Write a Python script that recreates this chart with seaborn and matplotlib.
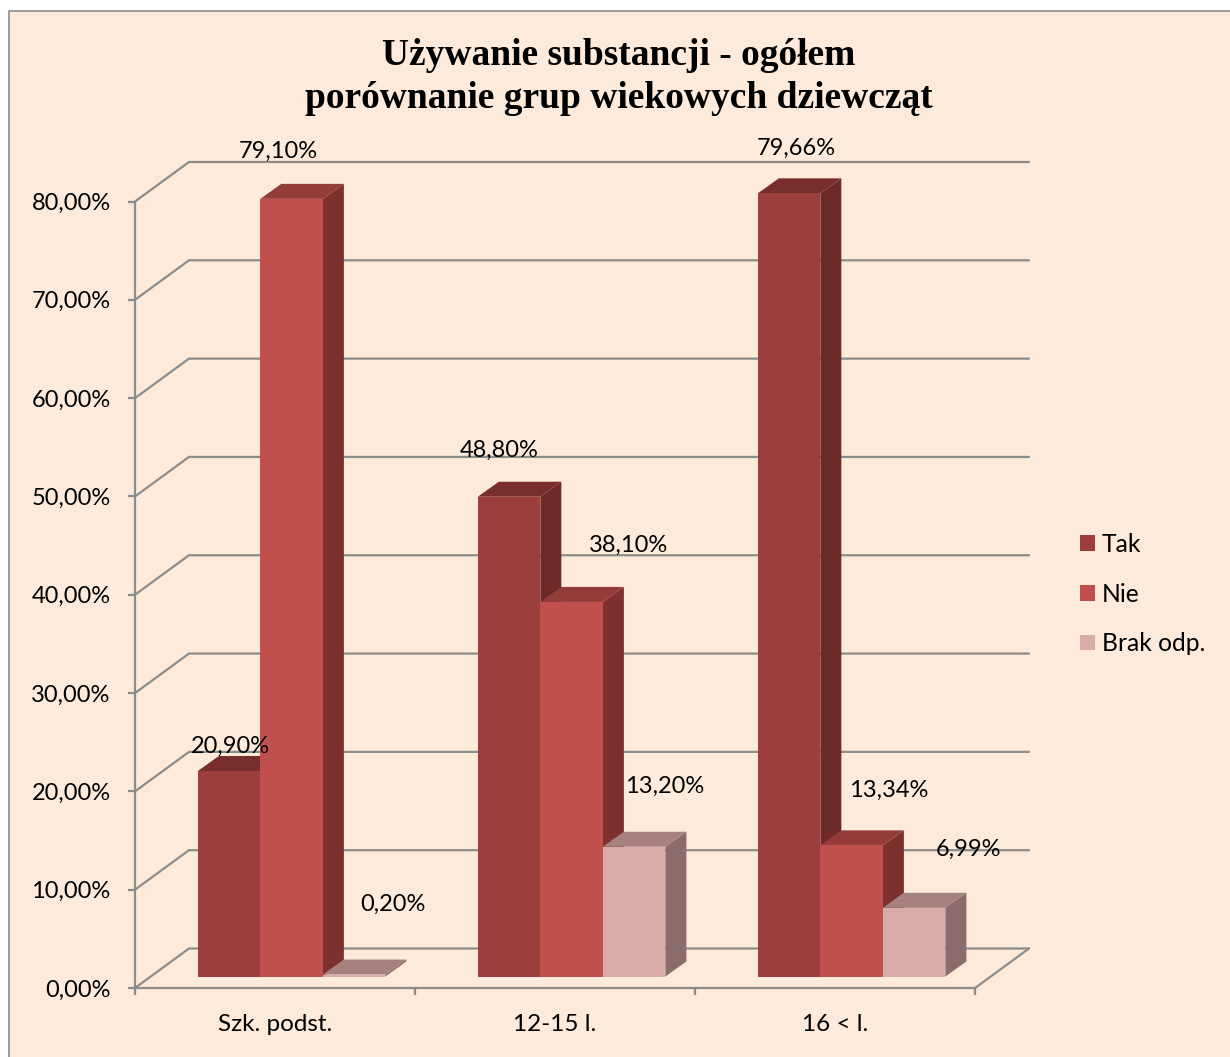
import matplotlib
matplotlib.use("Agg")
import matplotlib.pyplot as plt
from matplotlib.patches import Rectangle, Polygon
from matplotlib.lines import Line2D
import pandas as pd
import seaborn as sns

# ---- data ----
categories = ["Szk. podst.", "12-15 l.", "16 < l."]
series_names = ["Tak", "Nie", "Brak odp."]
tak = [20.90, 48.80, 79.66]
nie = [79.10, 38.10, 13.34]
brak = [0.20, 13.20, 6.99]
y_ticks = [0, 10, 20, 30, 40, 50, 60, 70, 80]
title = "Używanie substancji - ogółem\nporównanie grup wiekowych dziewcząt"

# ---- styles ----
front = ["#9C3E3D", "#C0504D", "#D9ACAA"]
side = ["#6E2A29", "#7E302F", "#8A6C6C"]
top = ["#772E2D", "#933C3A", "#A6817F"]
BG = "#FDEADA"
GRID = "#8C8C8C"
W, H = 1230, 1057
FONT = "Lato"
FS = 17

sns.set_theme(style="white")
plt.rcParams["font.family"] = [FONT, "DejaVu Sans"]

fig = plt.figure(figsize=(W / 100, H / 100), dpi=100, facecolor="white")


def px_axes(x0, y_top, x1, y_bot, **kw):
    return fig.add_axes([x0 / W, 1 - y_bot / H, (x1 - x0) / W, (y_bot - y_top) / H], **kw)


# panel background with the frame on left and top
fig.add_artist(Rectangle((9 / W, 0), 1 - 9 / W, 1 - 11 / H, transform=fig.transFigure,
                         facecolor=BG, edgecolor="none", zorder=-2))
fig.add_artist(Line2D([9 / W, 9 / W, 1], [0, 1 - 11 / H, 1 - 11 / H], transform=fig.transFigure,
                      color=GRID, lw=1.2, zorder=-1))

# ---- front axis frame and back wall ----
AX_L, AX_R, AX_T, AX_B = 135, 975, 201.5, 988
base = px_axes(AX_L, AX_T, AX_R, AX_B, facecolor="none")
base.set_xlim(-0.5, 2.5)
base.set_ylim(0, 80)
ux = (AX_R - AX_L) / 3
uy = (AX_B - AX_T) / 80
dx_wall, dy_wall = 54 / ux, 39.5 / uy
for v in y_ticks:
    base.plot([-0.5, -0.5 + dx_wall, 2.5 + dx_wall], [v, v + dy_wall, v + dy_wall],
              color=GRID, lw=1.6, clip_on=False, zorder=1, solid_joinstyle="miter")
base.plot([2.5, 2.5 + dx_wall], [0, dy_wall], color=GRID, lw=1.6, clip_on=False, zorder=1)

for s in ("top", "right"):
    base.spines[s].set_visible(False)
for s in ("left", "bottom"):
    base.spines[s].set_color(GRID)
    base.spines[s].set_linewidth(1.6)
base.set_yticks(y_ticks)
base.set_yticklabels([f"{v:.2f}%".replace(".", ",") for v in y_ticks], fontsize=FS, color="black")
base.set_xticks([-0.5, 0.5, 1.5, 2.5])
base.set_xticklabels([])
base.set_xticks([0, 1, 2], minor=True)
base.set_xticklabels(categories, minor=True, fontsize=FS + 0.5, color="black")
base.tick_params(axis="y", which="major", length=5, width=1.6, color=GRID, pad=12.5, left=True)
base.tick_params(axis="x", which="major", length=5, width=1.6, color=GRID, bottom=True)
base.tick_params(axis="x", which="minor", length=0, pad=19)

# ---- bars (front faces via seaborn) ----
df = pd.DataFrame({
    "kategoria": categories * 3,
    "seria": [n for n in series_names for _ in categories],
    "wartosc": tak + nie + brak,
})
bars = px_axes(AX_L + 16.6, AX_T - 11.5, AX_R + 16.6, AX_B - 11.5, facecolor="none")
sns.barplot(data=df, x="kategoria", y="wartosc", hue="seria", hue_order=series_names,
            order=categories, palette=front, saturation=1, width=0.67, gap=0,
            errorbar=None, ax=bars, legend=True, linewidth=0, edgecolor="none")
bars.set_xlim(-0.5, 2.5)
bars.set_ylim(0, 80)
bars.axis("off")

# ---- depth faces built from the drawn bars ----
dx, dy = 21 / ux, 15 / uy
for i, cont in enumerate(bars.containers):
    for p in cont.patches:
        x0, x1, h = p.get_x(), p.get_x() + p.get_width(), p.get_height()
        p.set_zorder(2 + 2 * i + 0.5)
        p.set_clip_on(False)
        bars.add_patch(Polygon([(x1, 0), (x1 + dx, dy), (x1 + dx, h + dy), (x1, h)],
                               facecolor=side[i], edgecolor="none", zorder=2 + 2 * i, clip_on=False))
        bars.add_patch(Polygon([(x0, h), (x0 + dx, h + dy), (x1 + dx, h + dy), (x1, h)],
                               facecolor=top[i], edgecolor="none", zorder=2 + 2 * i, clip_on=False))

# ---- value labels, offset in pixels from each bar's top centre ----
label_offsets = [[(1, 25), (-13, 48), (39, 70)],
                 [(-10, 46), (57, 57), (31, 60)],
                 [(7, 45), (37, 55), (54, 58)]]
values = [tak, nie, brak]
for i, cont in enumerate(bars.containers):
    for j, p in enumerate(cont.patches):
        ox, oy = label_offsets[j][i]
        bars.annotate(f"{values[i][j]:.2f}%".replace(".", ","),
                      (p.get_x() + p.get_width() / 2, p.get_height()),
                      xytext=(ox * 0.72, oy * 0.72), textcoords="offset points",
                      ha="center", va="center", fontsize=FS, color="black",
                      zorder=20, annotation_clip=False)

# ---- legend ----
handles = bars.get_legend().legend_handles
for h_ in handles:
    h_.set_edgecolor("none")
    h_.set_linewidth(0)
bars.legend(handles=handles, labels=series_names, loc="center left", frameon=False,
            bbox_to_anchor=((1080 - 151.6) / 840, (988 - 11.5 - 594) / (988 - 201.5)),
            handlelength=0.6, handleheight=0.6, handletextpad=0.28, labelspacing=1.08,
            fontsize=FS + 0.7, borderpad=0, borderaxespad=0, labelcolor="black")

# ---- title ----
fig.text(619 / W, 1 - 77 / H, title, ha="center", va="center", family="Liberation Serif",
         weight="bold", fontsize=27, color="black", linespacing=1.33)

fig.savefig("out.png", dpi=100, facecolor="white")
